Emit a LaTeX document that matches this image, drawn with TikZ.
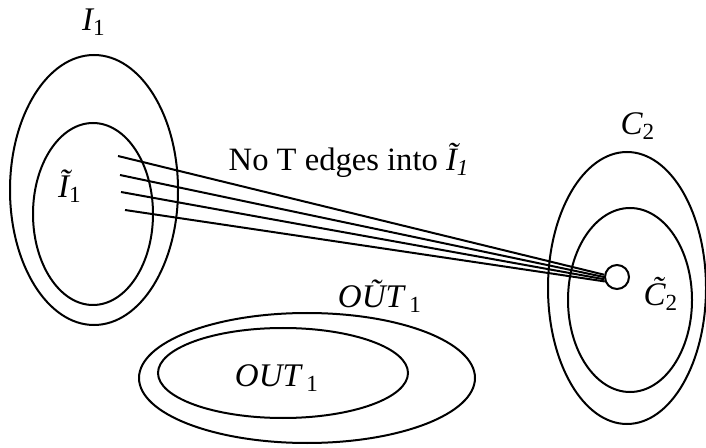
\documentclass[tikz,border=0pt]{standalone}
\usepackage{fontspec}
\setmainfont{Liberation Serif}
\usetikzlibrary{shapes.geometric}
\tikzset{
  setring/.style={draw, ellipse, inner sep=0pt},
  setlabel/.style={font=\fontsize{16.5}{19}\selectfont\itshape, inner sep=0pt}
}
\begin{document}
\begin{tikzpicture}[x=0.5pt, y=-0.5pt, line width=1pt]
\useasboundingbox (0,0) rectangle (706,448);
% sets on the left and bottom
\node[setring, minimum width=84pt, minimum height=135pt] (I) at (94,190) {};
\node[setring, minimum width=60pt, minimum height=91pt] (It) at (93,214) {};
\node[setring, minimum width=168pt, minimum height=65pt] (OUTt) at (307,378) {};
\node[setring, minimum width=125pt, minimum height=45pt] (OUT) at (283,373) {};
% sets on the right
\node[setring, minimum width=79pt, minimum height=136pt] (C) at (627,288) {};
\node[setring, minimum width=62pt, minimum height=92pt] (Ct) at (630,300) {};
\node[draw, circle, fill=white, minimum size=12pt, inner sep=0pt] (dot) at (617,277) {};
% labels
\node[setlabel] (Ilab) at (94,22) {I\textsubscript{\upshape 1}};
\node[setlabel] (Itlab) at (70,186) {\~I\textsubscript{\upshape 1}};
\node[setlabel] (Clab) at (638,126) {C\textsubscript{\upshape 2}};
\node[setlabel] (Ctlab) at (661,294) {C^^^^0303\textsubscript{\upshape 2}};
\node[setlabel] (OUTtlab) at (380,296) {O\~UT\,\textsubscript{\upshape 1}};
\node[setlabel] (OUTlab) at (277,378) {OUT\,\textsubscript{\upshape 1}};
\node[setlabel, font=\fontsize{16.3}{19}\selectfont] (note) at (349,160) {No T edges into \textit{\~I\textsubscript{1}}};
% edges into the dot
\coordinate (s1) at (118,156);
\coordinate (s2) at (120,175);
\coordinate (s3) at (121,192);
\coordinate (s4) at (125,210);
\foreach \s/\a in {s1/170, s2/180, s3/190, s4/200}
  \draw (\s) -- (dot.\a);
\end{tikzpicture}
\end{document}
